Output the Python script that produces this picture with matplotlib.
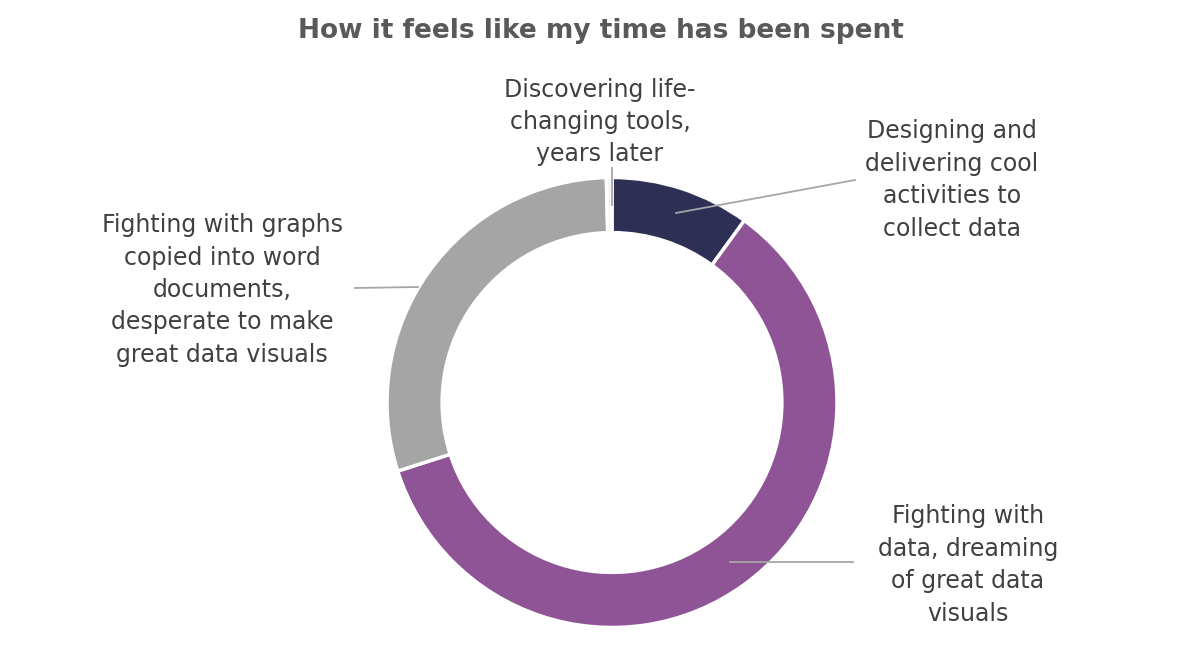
import matplotlib
matplotlib.use("Agg")
import matplotlib.pyplot as plt

categories = [
    "Designing and\ndelivering cool\nactivities to\ncollect data",
    "Fighting with\ndata, dreaming\nof great data\nvisuals",
    "Fighting with graphs\ncopied into word\ndocuments,\ndesperate to make\ngreat data visuals",
    "Discovering life-\nchanging tools,\nyears later",
]
values = [10.0, 60.0, 29.5, 0.4]
colors = ["#2E2F55", "#8E5496", "#A5A5A5", "#F2F2F2"]

W, H = 1200, 656
fig = plt.figure(figsize=(W / 100, H / 100), dpi=100)
ax = fig.add_axes([0, 0, 1, 1])
ax.set_xlim(0, W)
ax.set_ylim(0, H)
ax.set_aspect("equal")
ax.axis("off")

cx, cy, R = 612, H - 402.5, 225
ax.pie(values, colors=colors, startangle=90, counterclock=False,
       center=(cx, cy), radius=R,
       wedgeprops=dict(width=R * 0.245, edgecolor="white", linewidth=2.5))
ax.set_xlim(0, W)
ax.set_ylim(0, H)

font = "DejaVu Sans"
txtc = "#404040"
ax.text(W / 2 + 1, H - 31, "How it feels like my time has been spent", ha="center", va="center",
        fontsize=19, fontweight="bold", color="#595959", family=font)

# label positions (pixel coords, top-down y) and leader line endpoints
labels = [
    (952, 180, (855, 180), (676, 213)),
    (968, 565, (853, 562), (730, 562)),
    (222, 290, (355, 288), (418, 287)),
    (600, 122, (612, 168), (612, 205)),
]
for cat, (lx, ly, p0, p1) in zip(categories, labels):
    ax.text(lx, H - ly, cat, ha="center", va="center", fontsize=17, color=txtc,
            family=font, linespacing=1.44)
    ax.plot([p0[0], p1[0]], [H - p0[1], H - p1[1]], color="#A6A6A6", lw=1.3)

fig.savefig("out.png", dpi=100, facecolor="white")
